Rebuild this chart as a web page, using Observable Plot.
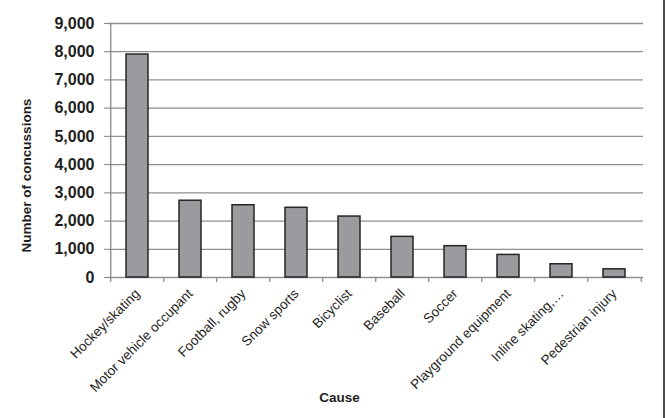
<!DOCTYPE html>
<html>
<head>
<meta charset="utf-8">
<script src="https://cdn.jsdelivr.net/npm/d3@7"></script>
<script src="https://cdn.jsdelivr.net/npm/@observablehq/plot@0.6"></script>
<style>
  html, body { margin: 0; padding: 0; background: #fff; }
  #wrap { position: relative; width: 666px; height: 418px; overflow: hidden; }
  #edge { position: absolute; left: 663px; top: 0; width: 2px; height: 418px; background: #4a4a4a; }
</style>
</head>
<body>
<div id="wrap"><div id="edge"></div></div>
<script>
const causes = [
  "Hockey/skating",
  "Motor vehicle occupant",
  "Football, rugby",
  "Snow sports",
  "Bicyclist",
  "Baseball",
  "Soccer",
  "Playground equipment",
  "Inline skating,…",
  "Pedestrian injury"
];
const concussions = [7900, 2720, 2560, 2470, 2160, 1440, 1110, 800, 470, 290];
const yTicks = [0, 1000, 2000, 3000, 4000, 5000, 6000, 7000, 8000, 9000];
const yLabel = "Number of concussions";
const xLabel = "Cause";

const data = causes.map((c, i) => ({cause: c, value: concussions[i]}));

const W = 666, H = 418;
const mL = 108, mR = 23, mT = 23, mB = 141;
const step = (W - mL - mR) / causes.length;

const chart = Plot.plot({
  width: W,
  height: H,
  marginLeft: mL,
  marginRight: mR,
  marginTop: mT,
  marginBottom: mB,
  style: {fontFamily: "'Liberation Sans', Arial, sans-serif", background: "transparent", color: "#1e1e1e"},
  x: {domain: causes, paddingInner: 0.59, paddingOuter: 0.295, label: null},
  y: {domain: [0, 9000], label: null},
  marks: [
    Plot.ruleY(yTicks, {stroke: "#8f8f8f", strokeWidth: 1.3}),
    Plot.barY(data, {x: "cause", y: "value", fill: "#9b9b9f", stroke: "#262626", strokeWidth: 1.5}),
    Plot.ruleX([causes[0]], {x: d => d, y1: 0, y2: 9000, dx: -step / 2, stroke: "#8a8a8a", strokeWidth: 1.3}),
    Plot.ruleX(causes, {x: d => d, y1: 0, y2: 0, insetBottom: -5, dx: -step / 2, stroke: "#8a8a8a", strokeWidth: 1.3}),
    Plot.ruleX([causes[causes.length - 1]], {x: d => d, y1: 0, y2: 0, insetBottom: -5, dx: step / 2, stroke: "#8a8a8a", strokeWidth: 1.3}),
    Plot.axisY({ticks: yTicks, tickFormat: d3.format(","), tickSize: 4, tickPadding: 10, fontSize: 16, fontWeight: "bold", stroke: "#8a8a8a", label: null}),
    Plot.axisX({tickSize: 0, tickRotate: -45, tickPadding: 14, fontSize: 13.5, label: null}),
    Plot.text([yLabel], {frameAnchor: "left", textAnchor: "middle", lineAnchor: "middle", dx: -82, dy: 25, rotate: -90, fontWeight: "bold", fontSize: 13.5}),
    Plot.text([xLabel], {frameAnchor: "bottom", textAnchor: "middle", lineAnchor: "middle", dx: -36.5, dy: 120, fontWeight: "bold", fontSize: 13.5})
  ]
});
document.getElementById("wrap").prepend(chart);
</script>
</body>
</html>
